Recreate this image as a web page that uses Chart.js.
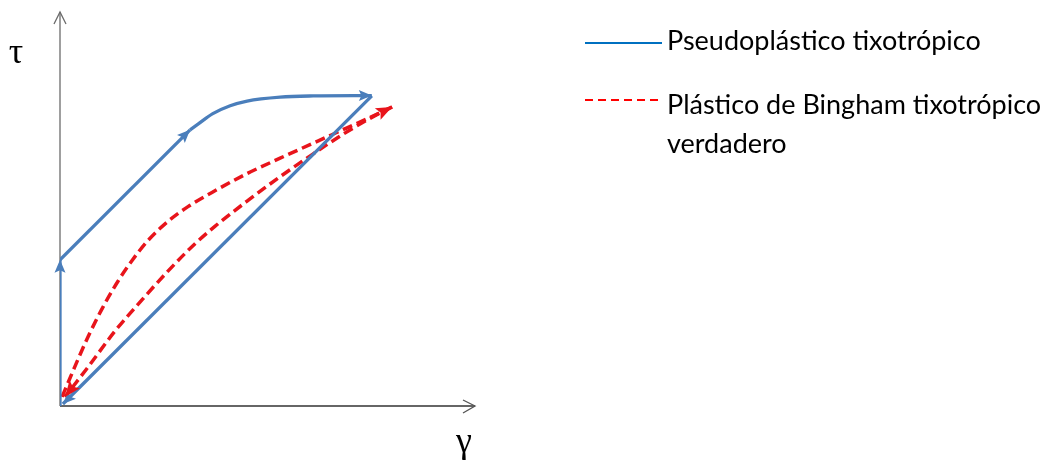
<!DOCTYPE html>
<html>
<head>
<meta charset="utf-8">
<script src="https://cdn.jsdelivr.net/npm/chart.js@4.4.0/dist/chart.umd.min.js"></script>
<style>
html,body{margin:0;padding:0;background:#fff;}
#wrap{position:relative;width:1056px;height:462px;}
</style>
</head>
<body>
<div id="wrap"><canvas id="c" width="1056" height="462"></canvas></div>
<script>
// Data (arbitrary units: shear rate γ on x, shear stress τ on y, axes 0..100)
const legendLabels = ['Pseudoplástico tixotrópico', 'Plástico de Bingham tixotrópico', 'verdadero'];
const axisLabels = {x: 'γ', y: 'τ'};

const blueYieldX = [0, 0];
const blueYieldY = [0, 37.1];
const blueRiseX = [0, 31.5];
const blueRiseY = [37.1, 70.1];
const bluePlateauX = [31.5, 33.5, 37.0, 41.2, 45.3, 53.3, 61.3, 75.5];
const bluePlateauY = [70.1, 71.6, 74.2, 76.2, 77.4, 78.4, 78.7, 78.8];
const blueReturnX = [75.5, 0.7];
const blueReturnY = [78.7, 0.5];

const redUpX = [0.5, 3.6, 6.8, 10.5, 14.0, 17.5, 21.3, 26.2, 31.0, 36.8, 45.3, 53.3, 61.3, 69.5, 77.5, 80.4];
const redUpY = [2.3, 10.0, 17.6, 25.3, 31.6, 37.0, 42.0, 46.9, 50.6, 54.2, 59.0, 62.9, 66.7, 70.6, 74.4, 75.9];
const redDownX = [80.4, 77.5, 69.5, 61.3, 53.3, 45.3, 37.5, 32.7, 26.2, 19.9, 13.3, 6.8, 1.2];
const redDownY = [75.9, 74.4, 69.6, 64.0, 58.2, 52.0, 45.6, 41.2, 34.3, 27.0, 19.0, 9.9, 2.3];

const BLUE = '#4a7ebb';
const RED = '#e8141b';

function pts(xs, ys) { return xs.map((x, i) => ({x: x, y: ys[i]})); }

function blueSet(xs, ys, curved) {
  return {data: pts(xs, ys), showLine: true, borderColor: BLUE, borderWidth: 3.3,
    pointRadius: 0, fill: false, cubicInterpolationMode: curved ? 'monotone' : 'default', tension: 0,
    arrow: {size: 13, width: 11, color: BLUE}};
}
function redSet(xs, ys) {
  return {data: pts(xs, ys), showLine: true, borderColor: RED, borderWidth: 3.5, borderDash: [10, 5],
    pointRadius: 0, fill: false, cubicInterpolationMode: 'monotone',
    arrow: {size: 16, width: 13, color: RED}};
}

const arrowPlugin = {
  id: 'arrows',
  afterDatasetsDraw(chart) {
    const ctx = chart.ctx;
    chart.data.datasets.forEach((ds, i) => {
      if (!ds.arrow) return;
      const meta = chart.getDatasetMeta(i);
      const n = meta.data.length;
      const p = meta.data[n - 1], q = meta.data[n - 2];
      const ang = Math.atan2(p.y - q.y, p.x - q.x);
      const L = ds.arrow.size, W = ds.arrow.width / 2;
      ctx.save();
      ctx.translate(p.x, p.y);
      ctx.rotate(ang);
      ctx.fillStyle = ds.arrow.color;
      ctx.beginPath();
      ctx.moveTo(0, 0);
      ctx.lineTo(-L, -W);
      ctx.lineTo(-L * 0.8, 0);
      ctx.lineTo(-L, W);
      ctx.closePath();
      ctx.fill();
      ctx.restore();
    });
  }
};

const axesPlugin = {
  id: 'axesArrows',
  beforeDatasetsDraw(chart) {
    const ctx = chart.ctx;
    const xs = chart.scales.x, ys = chart.scales.y;
    const x0 = xs.getPixelForValue(0), y0 = ys.getPixelForValue(0);
    const yTop = ys.getPixelForValue(100);
    const xEnd = xs.getPixelForValue(100) + 2;
    ctx.save();
    ctx.lineWidth = 1.3;
    // y axis
    ctx.strokeStyle = '#6b6b6b';
    ctx.beginPath(); ctx.moveTo(x0, y0); ctx.lineTo(x0, yTop); ctx.stroke();
    ctx.beginPath(); ctx.moveTo(x0 - 6, yTop + 12); ctx.lineTo(x0, yTop); ctx.lineTo(x0 + 6, yTop + 12); ctx.stroke();
    // x axis
    ctx.strokeStyle = '#333333';
    ctx.beginPath(); ctx.moveTo(x0, y0); ctx.lineTo(xEnd, y0); ctx.stroke();
    ctx.strokeStyle = '#555555';
    ctx.beginPath(); ctx.moveTo(xEnd - 12, y0 - 6); ctx.lineTo(xEnd, y0); ctx.lineTo(xEnd - 12, y0 + 7); ctx.stroke();
    // axis labels
    ctx.fillStyle = '#000';
    ctx.font = '36px "Liberation Serif", "DejaVu Serif", serif';
    ctx.textAlign = 'center';
    ctx.textBaseline = 'alphabetic';
    ctx.fillText(axisLabels.y, 16, 63);
    ctx.fillText(axisLabels.x, 464, 452);
    ctx.restore();
  },
  afterDraw(chart) {
    const ctx = chart.ctx;
    ctx.save();
    // legend
    ctx.lineWidth = 2;
    ctx.strokeStyle = '#0070c0';
    ctx.beginPath(); ctx.moveTo(585, 43); ctx.lineTo(662, 43); ctx.stroke();
    ctx.strokeStyle = '#ff0000';
    ctx.setLineDash([8, 5]);
    ctx.beginPath(); ctx.moveTo(585, 100); ctx.lineTo(662, 100); ctx.stroke();
    ctx.setLineDash([]);
    ctx.fillStyle = '#000';
    ctx.font = '27px Lato, "Open Sans", sans-serif';
    ctx.textAlign = 'left';
    ctx.textBaseline = 'alphabetic';
    ctx.fillText(legendLabels[0], 667, 50);
    ctx.fillText(legendLabels[1], 667, 114);
    ctx.fillText(legendLabels[2], 667, 153);
    ctx.restore();
  }
};

new Chart(document.getElementById('c'), {
  type: 'scatter',
  data: {
    datasets: [
      blueSet(blueYieldX, blueYieldY, false),
      blueSet(blueRiseX, blueRiseY, false),
      blueSet(bluePlateauX, bluePlateauY, true),
      blueSet(blueReturnX, blueReturnY, false),
      redSet(redUpX, redUpY),
      redSet(redDownX, redDownY)
    ]
  },
  options: {
    responsive: false,
    animation: false,
    layout: {padding: {left: 60, top: 12, right: 583, bottom: 56}},
    plugins: {legend: {display: false}, tooltip: {enabled: false}},
    scales: {
      x: {type: 'linear', min: 0, max: 100, display: false},
      y: {type: 'linear', min: 0, max: 100, display: false}
    }
  },
  plugins: [axesPlugin, arrowPlugin]
});
</script>
</body>
</html>
